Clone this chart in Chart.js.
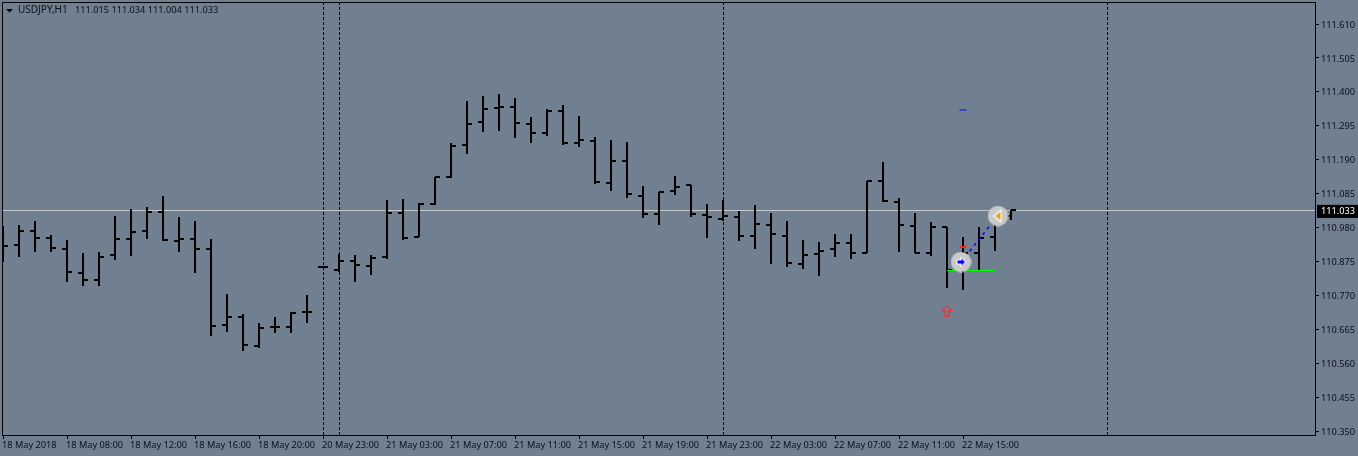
<!DOCTYPE html>
<html><head><meta charset="utf-8">
<style>html,body{margin:0;padding:0;background:#708090;overflow:hidden}canvas{display:block}</style>
<script src="https://cdn.jsdelivr.net/npm/chart.js@4"></script></head>
<body><canvas id="c" width="1358" height="456"></canvas>
<script>
const titleSymbol = "USDJPY,H1";
const titleValues = "111.015 111.034 111.004 111.033";
const timeLabels = ["18 May 2018","18 May 08:00","18 May 12:00","18 May 16:00","18 May 20:00","20 May 23:00","21 May 03:00","21 May 07:00","21 May 11:00","21 May 15:00","21 May 19:00","21 May 23:00","22 May 03:00","22 May 07:00","22 May 11:00","22 May 15:00"];
const priceTicks = [111.610,111.505,111.400,111.295,111.190,111.085,110.980,110.875,110.770,110.665,110.560,110.455,110.350];
const currentPrice = 111.033;
const separators = [20,21,45,69];
const opens = [110.923,110.927,110.970,110.949,110.914,110.840,110.818,110.896,110.945,110.970,111.029,110.939,110.945,110.914,110.679,110.704,110.614,110.671,110.673,110.719,110.859,110.849,110.877,110.862,110.890,111.025,110.952,111.052,111.135,111.236,111.307,111.351,111.354,111.301,111.273,111.342,111.243,111.248,111.118,111.186,111.079,111.022,111.094,111.111,111.020,111.005,111.014,110.955,110.989,110.955,110.868,110.899,110.914,110.933,110.902,111.125,111.060,110.986,110.901,110.981,110.852,110.902,110.952,111.015];
const highs = [110.985,110.988,111.000,110.957,110.941,110.901,110.904,111.016,111.037,111.044,111.078,111.013,111.000,110.944,110.774,110.712,110.685,110.703,110.718,110.771,110.859,110.898,110.895,110.895,111.065,111.068,111.055,111.137,111.242,111.372,111.387,111.393,111.381,111.322,111.347,111.359,111.325,111.260,111.251,111.245,111.109,111.091,111.140,111.111,111.053,111.065,111.031,111.050,111.025,111.000,110.941,110.935,110.960,110.960,111.125,111.183,111.072,111.025,110.997,110.983,110.951,110.982,111.044,111.034];
const lows = [110.874,110.890,110.905,110.905,110.812,110.800,110.800,110.880,110.893,110.945,110.939,110.905,110.840,110.645,110.658,110.599,110.608,110.652,110.655,110.685,110.859,110.843,110.812,110.834,110.883,110.942,110.952,111.049,111.132,111.209,111.277,111.280,111.258,111.243,111.264,111.236,111.229,111.116,111.094,111.072,111.008,110.989,111.082,111.014,110.948,110.999,110.939,110.914,110.868,110.859,110.852,110.831,110.890,110.883,110.902,111.058,110.905,110.901,110.893,110.794,110.788,110.849,110.908,111.004];
const closes = [110.923,110.970,110.949,110.918,110.843,110.818,110.890,110.945,110.966,111.027,110.940,110.945,110.914,110.676,110.704,110.617,110.670,110.671,110.716,110.719,110.859,110.877,110.865,110.887,111.025,110.949,111.054,111.135,111.233,111.301,111.347,111.354,111.303,111.273,111.342,111.242,111.251,111.121,111.186,111.084,111.022,111.091,111.106,111.023,111.014,111.017,110.954,110.992,110.961,110.871,110.896,110.908,110.933,110.902,111.125,111.062,110.988,110.901,110.983,110.849,110.902,110.948,111.016,111.033];
const greenLineX = [59,62], greenLineY = [110.849,110.849];
const tradeX = [59.875,62.17], tradeY = [110.873,111.016];
const blueDash = {x:60.03,y:111.344}, redDash = {x:60.03,y:110.919};
const upArrow = {x:59,y:110.722};

function mk(w,h,fn){const c=document.createElement('canvas');c.width=w;c.height=h;fn(c.getContext('2d'));return c;}
const openTick = mk(10,2,g=>{g.fillStyle='#000';g.fillRect(0,0,5,2);});
const closeTick = mk(10,2,g=>{g.fillStyle='#000';g.fillRect(5,0,5,2);});
function poly(g,pts,fill,stroke,lw){g.beginPath();pts.forEach((p,i)=>i?g.lineTo(p[0],p[1]):g.moveTo(p[0],p[1]));g.closePath();if(fill){g.fillStyle=fill;g.fill();}if(stroke){g.strokeStyle=stroke;g.lineWidth=lw;g.stroke();}}
const entryMark = mk(21,21,g=>{g.fillStyle='#c9c9c9';g.beginPath();g.arc(10.5,10.5,10.2,0,7);g.fill();
  poly(g,[[6,8],[10,8],[10,5],[16,10.5],[10,16],[10,13],[6,13]],'#ffffff');
  poly(g,[[7,9],[11,9],[11,7],[14.5,10.5],[11,14],[11,12],[7,12]],'#0000ff');});
const exitMark = mk(21,21,g=>{g.fillStyle='#c9c9c9';g.beginPath();g.arc(10.5,10.5,10.2,0,7);g.fill();
  poly(g,[[14,3.5],[14,17.5],[5.5,10.5]],'#ffffff');
  poly(g,[[13,6],[13,15],[7.5,10.5]],'#e6a21c');});
const arrowMark = mk(11,12,g=>{poly(g,[[5.5,.5],[10.5,5.5],[7.5,5.5],[7.5,11.5],[3.5,11.5],[3.5,5.5],[.5,5.5]],null,'#ff2222',1);});

const idx = opens.map((_,i)=>i);
const xMin=-0.065, xMax=82;
const yMin=110.3378, yMax=111.6781;
const FONT={family:'"Noto Sans"',size:9.2};
const ptsDs=(data,style,order)=>({type:'line',data,showLine:false,pointStyle:style,pointRadius:5,pointHoverRadius:5,order,parsing:false,normalized:true});
const noPad=s=>{s.paddingTop=0;s.paddingBottom=0;s.paddingLeft=0;s.paddingRight=0;};

const crisp={id:'crisp',afterDatasetsUpdate(ch){ch.getSortedVisibleDatasetMetas().forEach(m=>{
  if(m.type==='line'&&!m.dataset.options.borderDash.length){
    const solidLine=m.data.length===2;
    m.data.forEach(p=>{p.x=Math.round(p.x);p.y=Math.round(p.y)+(solidLine?0.5:0);});}
  if(m.type==='bar'){m.data.forEach(b=>{b.x=Math.round(b.x);b.y=Math.round(b.y);b.base=Math.round(b.base);});}
});}};
const frame={id:'frame',afterDraw(ch){const g=ch.ctx;g.save();
  g.strokeStyle='#000';g.lineWidth=1;g.beginPath();g.moveTo(2.5,435.5);g.lineTo(2.5,2.5);g.lineTo(1315.5,2.5);g.stroke();
  g.fillStyle='#000';g.beginPath();g.moveTo(6,9);g.lineTo(13,9);g.lineTo(9.5,12.5);g.closePath();g.fill();
  g.textBaseline='middle';g.textAlign='left';g.fillStyle='#0a0f1e';
  g.font='10px "Noto Sans"';g.fillText(titleSymbol,18,10.5);
  g.font='9.2px "Noto Sans"';g.fillText(titleValues,75,10.5);
  g.restore();}};

new Chart(document.getElementById('c'),{
  data:{datasets:[
    {type:'bar',data:idx.map(i=>({x:i,y:[lows[i],highs[i]]})),backgroundColor:'#000',borderWidth:0,inflateAmount:0,barThickness:2,order:10,grouped:false},
    ptsDs(idx.map(i=>({x:i,y:opens[i]})),openTick,9),
    ptsDs(idx.map(i=>({x:i,y:closes[i]})),closeTick,8),
    {type:'line',data:greenLineX.map((x,i)=>({x,y:greenLineY[i]})),borderColor:'#00ff00',borderWidth:1,pointRadius:0,order:5,parsing:false},
    {type:'line',data:tradeX.map((x,i)=>({x,y:tradeY[i]})),borderColor:'#0000ff',borderWidth:1.5,borderDash:[3,4],pointRadius:0,order:4,parsing:false},
    ptsDs([{x:tradeX[0],y:tradeY[0]}],entryMark,3),
    ptsDs([{x:tradeX[1],y:tradeY[1]}],exitMark,3),
    ptsDs([upArrow],arrowMark,3),
    {type:'line',data:[blueDash],showLine:false,pointStyle:'line',pointRadius:3.5,pointBorderColor:'#0000ff',pointBorderWidth:1,order:2,parsing:false},
    {type:'line',data:[redDash],showLine:false,pointStyle:'line',pointRadius:3.5,pointBorderColor:'#ff2020',pointBorderWidth:2,order:2,parsing:false}
  ]},
  plugins:[crisp,frame],
  options:{responsive:false,animation:false,devicePixelRatio:1,
    layout:{autoPadding:false,padding:{left:2,top:2,right:0,bottom:0}},
    events:[],
    plugins:{legend:{display:false},tooltip:{enabled:false},title:{display:false}},
    scales:{
      x:{type:'linear',position:'bottom',offset:false,min:xMin,max:xMax,
        afterBuildTicks(s){s.ticks=timeLabels.map((_,i)=>({value:i*4}));},
        afterFit(s){s.height=21;noPad(s);},
        grid:{drawOnChartArea:false,tickLength:4,tickColor:'#000',offset:false},
        border:{color:'#000',width:1},
        ticks:{autoSkip:false,maxRotation:0,minRotation:0,align:'start',padding:1,labelOffset:-1,color:'#0a0f1e',font:FONT,
          callback:(v)=>timeLabels[Math.round(v/4)]}},
      xSep:{type:'linear',position:'bottom',offset:false,min:xMin,max:xMax,
        afterBuildTicks(s){s.ticks=separators.map(v=>({value:v}));},
        afterFit(s){s.height=0;noPad(s);},
        grid:{color:'#000',lineWidth:1,drawTicks:false,offset:false},
        border:{display:false,dash:[3,2]},
        ticks:{display:false}},
      y:{type:'linear',position:'right',min:yMin,max:yMax,
        afterBuildTicks(s){s.ticks=priceTicks.concat([currentPrice]).sort((a,b)=>b-a).map(v=>({value:v}));},
        afterFit(s){s.width=43;noPad(s);},
        grid:{tickLength:4,color:c=>c.tick&&c.tick.value===currentPrice?'#c8c8c8':'rgba(0,0,0,0)',
          tickColor:c=>c.tick&&c.tick.value===currentPrice?'rgba(0,0,0,0)':'#000'},
        border:{color:'#000',width:1},
        ticks:{autoSkip:false,padding:2,labelOffset:1,font:FONT,
          color:c=>c.tick&&c.tick.value===currentPrice?'#ffffff':'#0a0f1e',
          showLabelBackdrop:c=>!!(c.tick&&c.tick.value===currentPrice),
          backdropColor:'#000',backdropPadding:{top:1,bottom:1,left:4,right:6},
          callback:v=>v.toFixed(3)}}
    }
  }
});
</script></body></html>
